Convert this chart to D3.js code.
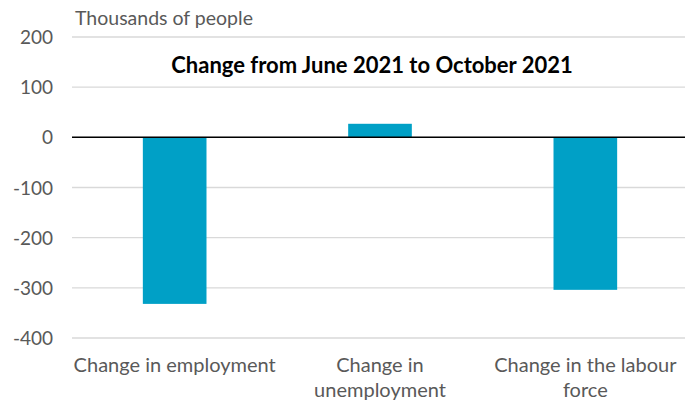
<!DOCTYPE html>
<html>
<head>
<meta charset="utf-8">
<script src="https://cdn.jsdelivr.net/npm/d3@7"></script>
<style>
  body { margin: 0; background: #fff; }
  svg { display: block; font-family: Lato, "Open Sans", sans-serif; }
  .tick text { fill: #595959; font-size: 19px; font-family: Lato, sans-serif; }
</style>
</head>
<body>
<div id="chart"></div>
<script>
var categories = ["Change in employment", "Change in unemployment", "Change in the labour force"]
var labelLines = [["Change in employment"], ["Change in", "unemployment"], ["Change in the labour", "force"]]
var values = [-332, 27, -304]
var yTicks = [200, 100, 0, -100, -200, -300, -400]

var width = 685,
    height = 403

var margin = { top: 37, right: -3, bottom: 65, left: 72 }

var svg = d3.select("#chart").append("svg")
    .attr("width", width)
    .attr("height", height)

var x = d3.scaleBand()
    .domain(categories)
    .range([margin.left, width - margin.right])
    .paddingInner(0.69)
    .paddingOuter(0.345)

var y = d3.scaleLinear()
    .domain([-400, 200])
    .range([height - margin.bottom, margin.top])

// gridlines
svg.append("g")
  .selectAll("line")
  .data(yTicks)
  .enter().append("line")
    .attr("x1", margin.left)
    .attr("x2", width)
    .attr("y1", function(d) { return y(d) })
    .attr("y2", function(d) { return y(d) })
    .style("stroke", "#d9d9d9")
    .style("stroke-width", 1.3)

// y axis labels
var yAxis = svg.append("g")
    .attr("transform", "translate(" + (margin.left - 19) + ",0)")
    .call(d3.axisLeft(y).tickValues(yTicks).tickSize(0).tickPadding(0)
      .tickFormat(function(d) { return String(d) }))
yAxis.select(".domain").remove()
yAxis.selectAll("text").attr("dy", "0.35em")

// bars
svg.selectAll(".bar")
  .data(values)
  .enter().append("rect")
    .attr("class", "bar")
    .attr("x", function(d, i) { return x(categories[i]) })
    .attr("width", x.bandwidth())
    .attr("y", function(d) { return y(Math.max(0, d)) })
    .attr("height", function(d) { return Math.abs(y(d) - y(0)) })
    .style("fill", "#00a0c6")

// zero line
svg.append("line")
    .attr("x1", margin.left)
    .attr("x2", width)
    .attr("y1", y(0))
    .attr("y2", y(0))
    .style("stroke", "#000")
    .style("stroke-width", 1.5)

// category labels
var catLabels = svg.selectAll(".catLabel")
  .data(labelLines)
  .enter().append("text")
    .attr("class", "catLabel")
    .attr("x", function(d, i) { return x(categories[i]) + x.bandwidth() / 2 })
    .attr("y", 372)
    .style("text-anchor", "middle")
    .style("fill", "#595959")
    .style("font-size", "20px")

catLabels.selectAll("tspan")
  .data(function(d) { return d })
  .enter().append("tspan")
    .attr("x", function() { return d3.select(this.parentNode).attr("x") })
    .attr("dy", function(d, i) { return i == 0 ? 0 : 25 })
    .text(function(d) { return d })

svg.append("text")
    .attr("x", 75)
    .attr("y", 25)
    .style("fill", "#595959")
    .style("font-size", "19.5px")
    .text("Thousands of people")

svg.append("text")
    .attr("x", 372)
    .attr("y", 73)
    .style("text-anchor", "middle")
    .style("font-weight", "bold")
    .style("font-size", "22px")
    .style("fill", "#000")
    .text("Change from June 2021 to October 2021")
</script>
</body>
</html>
